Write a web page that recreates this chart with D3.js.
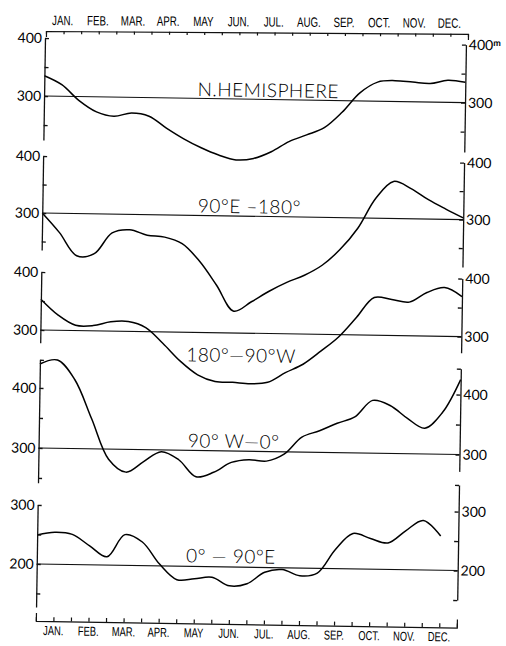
<!DOCTYPE html>
<html><head><meta charset="utf-8">
<script src="https://cdn.jsdelivr.net/npm/d3@7"></script>
<style>body{margin:0;background:#fff}</style>
</head><body><svg id="c" width="506" height="646"></svg>
<script>
// ---- data ----
const monthLabels = ["JAN.","FEB.","MAR.","APR.","MAY","JUN.","JUL.","AUG.","SEP.","OCT.","NOV.","DEC."];
const monthPos = [0,0.5,1,1.5,2,2.5,3,3.5,4,4.5,5,5.5,6,6.5,7,7.5,8,8.5,9,9.5,10,10.5,11,11.5,12];
const nHemisphere = [335,320,293,274,267,273,268,248,230,215,203,195,198,210,228,240,253,280,314,333,336,334,332,338,335];
const e90to180    = [300,266,226,230,267,273,264,261,250,220,178,133,150,169,185,198,216,244,282,335,365,353,334,318,303];
const w180to90    = [353,326,309,309,316,317,307,280,250,227,216,215,213,216,233,248,271,296,330,365,362,358,375,384,369];
const w90to0      = [440,447,415,350,283,262,280,297,284,256,264,281,286,284,296,325,336,349,360,388,380,359,343,370,425];
const e0to90      = [249,254,251,232,214,252,240,203,177,179,182,168,172,192,197,187,192,232,260,252,245,266,284,258,null];
const panelNames  = ["N.HEMISPHERE","90°E –180°","180°—90°W","90° W—0°","0° — 90°E"];
const refValues   = [300,300,300,300,200];

// ---- layout ----
const layout = [
  {data:nHemisphere, yRef:96,  px:58, left:[224,400], right:[215,400], lt:[250,300,350,400], rt:[250,300,350,400], lab:[300,400], tx:269, ty:93.5},
  {data:e90to180,    yRef:213, px:57, left:[235,400], right:[217,400], lt:[250,300,350,400], rt:[250,300,350,400], lab:[300,400], tx:252, ty:210},
  {data:w180to90,    yRef:330, px:58, left:[278,400], right:[272,400], lt:[300,350,400],     rt:[300,350,400],     lab:[300,400], tx:246, ty:359},
  {data:w90to0,      yRef:448, px:60, left:[242,447], right:[272,443], lt:[250,300,350,400,447], rt:[300,350,400,443], lab:[300,400], tx:240, ty:445},
  {data:e0to90,      yRef:564, px:59, left:[127,300], right:[150,345], lt:[150,200,250,300], rt:[150,200,250,300,345], lab:[200,300], tx:239, ty:560}
];

const svg = d3.select("#c");
const numFont = "Lato, 'Open Sans', sans-serif";
const monFont = "'Liberation Sans', Arial, sans-serif";

const x = d3.scaleLinear().domain([0,12]).range([45,466]);
const g = svg.append("g").attr("transform","rotate(0.9,45,38)");

layout.forEach((p,i) => {
  const ref = refValues[i];
  const y = d3.scaleLinear().domain([ref, ref+100]).range([p.yRef, p.yRef - p.px]);
  g.append("line").attr("x1",x(0)).attr("x2",x(12)).attr("y1",y(ref)).attr("y2",y(ref))
    .attr("stroke","#111").attr("stroke-width",1.1);
  const pts = monthPos.map((m,k)=>[m,p.data[k]]);
  g.append("path").datum(pts)
    .attr("d", d3.line().defined(d=>d[1]!=null).x(d=>x(d[0])).y(d=>y(d[1])).curve(d3.curveCatmullRom.alpha(0.5)))
    .attr("fill","none").attr("stroke","#000").attr("stroke-width",1.5);
  g.append("text").attr("x",p.tx).attr("y",p.ty).attr("text-anchor","middle")
    .attr("font-family",numFont).attr("font-weight",300).attr("font-size",19)
    .attr("letter-spacing",0.5).attr("fill","#000").text(panelNames[i]);
  const yl = y.copy().domain(p.left).range(p.left.map(y));
  const yr = y.copy().domain(p.right).range(p.right.map(y));
  const fmt = d => p.lab.includes(d) ? d : "";
  const al = g.append("g").attr("transform",`translate(${x(0)},0)`)
    .call(d3.axisLeft(yl).tickValues(p.lt).tickSizeInner(-4).tickSizeOuter(0).tickPadding(3).tickFormat(fmt));
  const ar = g.append("g").attr("transform",`translate(${x(12)},0)`)
    .call(d3.axisRight(yr).tickValues(p.rt).tickSizeInner(-4).tickSizeOuter(0).tickPadding(3).tickFormat(fmt));
  [al,ar].forEach(a => {
    a.selectAll("path,line").attr("stroke","#111").attr("stroke-width",1.3);
    a.selectAll("text").attr("font-family",numFont).attr("font-size",14).attr("fill","#000");
  });
  if (i===0) {
    ar.selectAll(".tick text").filter(d=>d===400).append("tspan")
      .attr("dy","-0.45em").attr("font-size",9).attr("font-weight","bold").text("m");
  }
});

// bottom month axis
const ab = g.append("g").attr("transform","translate(0,621)")
  .call(d3.axisTop(x).tickValues(monthPos).tickSizeInner(4).tickSizeOuter(8).tickFormat(""));
ab.selectAll("path,line").attr("stroke","#111").attr("stroke-width",1.2);
g.append("g").selectAll("text").data(monthLabels).join("text")
  .attr("transform",(d,k)=>`translate(${x(k+0.5)},635) scale(0.72,1)`).attr("text-anchor","middle")
  .attr("font-family",monFont).attr("font-size",13).attr("fill","#000").text(d=>d);

// top month axis
const xt = d3.scaleLinear().domain([0,12]).range([46,468]);
const gt = svg.append("g").attr("transform","rotate(0.4,45,31)");
const at = gt.append("g").attr("transform","translate(0,31)")
  .call(d3.axisBottom(xt).tickValues(monthPos).tickSizeInner(3).tickSizeOuter(6).tickFormat(""));
at.selectAll("path,line").attr("stroke","#111").attr("stroke-width",1.2);
gt.append("g").selectAll("text").data(monthLabels).join("text")
  .attr("transform",(d,k)=>`translate(${xt(k+0.5)-1},25) scale(0.72,1)`).attr("text-anchor","middle")
  .attr("font-family",monFont).attr("font-size",13.5).attr("fill","#000").text(d=>d);
</script></body></html>
